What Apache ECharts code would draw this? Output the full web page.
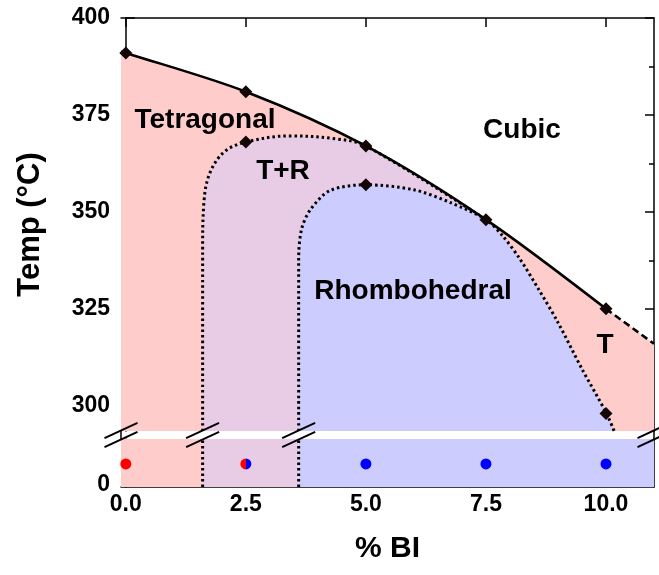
<!DOCTYPE html>
<html>
<head>
<meta charset="utf-8">
<script src="https://cdn.jsdelivr.net/npm/echarts@6/dist/echarts.min.js"></script>
<style>
html,body{margin:0;padding:0;background:#fff;}
#c{width:659px;height:575px;}
</style>
</head>
<body>
<div id="c"></div>
<script>
// ---- data ----
var xTicks = [0, 2.5, 5, 7.5, 10];
var yTicks = [300, 325, 350, 375, 400];
var yMinorTicks = [312.5, 337.5, 362.5, 387.5];
var lowerTicks = [0];

// cubic / tetragonal boundary (solid), with dashed extrapolation
var cubicX = [-0.1, 0, 2.5, 5, 7.5, 10];
var cubicY = [391.3, 391, 381, 367, 348, 325];
var cubicExtX = [10, 11];
var cubicExtY = [325, 316];

// T+R outer boundary (dotted), continuing along cubic line to 7.5
var trX = [1.6, 1.6, 1.63, 1.75, 2.05, 2.5, 3.4, 4.4, 5, 7.5];
var trY = [293.5, 340, 353, 360, 365.5, 368, 369.6, 368.8, 367, 348];

// Rhombohedral boundary (dotted)
var rhX = [3.6, 3.6, 3.66, 3.84, 4.25, 5, 6, 6.76, 7.5, 7.85, 8.2, 8.6, 9.0, 9.5, 10, 10.17];
var rhY = [293.5, 338, 345.5, 350.5, 355.5, 357, 355.7, 352.4, 348, 343.8, 338, 330, 321.5, 309.5, 298.3, 293.5];

// measured transition points (diamonds)
var diamondX = [0, 2.5, 2.5, 5, 5, 7.5, 10, 10];
var diamondY = [391, 381, 368, 367, 357, 348, 325, 298];

// room-temperature phase points (lower panel)
var rtX = [0, 2.5, 5, 7.5, 10];
var rtY = [6, 6, 6, 6, 6];
var rtPhase = ['T', 'TR', 'R', 'R', 'R'];

// lower panel phase bands
var bandEdges = [-0.1, 1.6, 3.6, 11];

var RED = '#ffcccc', PURPLE = '#e8cce6', BLUE = '#ccccff';
var FONT = '"Liberation Sans", Arial, sans-serif';

function zip(a, b) { return a.map(function (v, i) { return [v, b[i]]; }); }

var chart = echarts.init(document.getElementById('c'), null, {renderer: 'canvas'});

var xCommon = {
  type: 'value', min: -0.1, max: 11,
  splitLine: {show: false},
  axisLine: {show: true, onZero: false, lineStyle: {color: '#000', width: 1.5}},
  axisTick: {show: true, inside: true, length: 9, customValues: xTicks, lineStyle: {color: '#000', width: 1.5}},
  axisLabel: {show: false}
};

var ptColor = function (ph) {
  if (ph === 'T') return '#ff0000';
  if (ph === 'R') return '#0000ff';
  return {type: 'linear', x: 0, y: 0, x2: 1, y2: 0,
    colorStops: [{offset: 0, color: '#ff0000'}, {offset: 0.5, color: '#ff0000'},
                 {offset: 0.5, color: '#0000ff'}, {offset: 1, color: '#0000ff'}]};
};

var dotted = {color: '#000', width: 3, type: [2.5, 3], cap: 'butt'};

var option = {
  animation: false,
  backgroundColor: '#fff',
  grid: [
    {left: 121, right: 5, top: 18, height: 413},
    {left: 121, right: 5, top: 439, height: 48}
  ],
  xAxis: [
    Object.assign({}, xCommon, {gridIndex: 0, position: 'top'}),
    Object.assign({}, xCommon, {
      gridIndex: 1, position: 'bottom',
      axisLabel: {show: true, customValues: xTicks, margin: 6,
        formatter: function (v) { return v.toFixed(1); },
        fontFamily: FONT, fontWeight: 'bold', fontSize: 23, color: '#000'},
      name: '% BI', nameLocation: 'middle', nameGap: 47,
      nameTextStyle: {fontFamily: FONT, fontWeight: 'bold', fontSize: 30, color: '#000'}
    })
  ],
  yAxis: [
    {type: 'value', gridIndex: 0, position: 'left', min: 293.5, max: 400,
      splitLine: {show: false},
      axisLine: {show: true, lineStyle: {color: '#000', width: 1.5}},
      axisTick: {inside: true, length: 9, customValues: yTicks, lineStyle: {color: '#000', width: 1.5}},
      axisLabel: {customValues: yTicks, margin: 11, fontFamily: FONT, fontWeight: 'bold', fontSize: 23, color: '#000'},
      name: 'Temp (°C)', nameLocation: 'middle', nameGap: 75,
      nameTextStyle: {fontFamily: FONT, fontWeight: 'bold', fontSize: 31, color: '#000'}
    },
    {type: 'value', gridIndex: 0, position: 'left', min: 293.5, max: 400,
      splitLine: {show: false}, axisLine: {show: false},
      axisTick: {inside: true, length: 5, customValues: yMinorTicks, lineStyle: {color: '#000', width: 1.5}},
      axisLabel: {show: false}},
    {type: 'value', gridIndex: 0, position: 'right', min: 293.5, max: 400,
      splitLine: {show: false},
      axisLine: {show: true, lineStyle: {color: '#000', width: 1.5}},
      axisTick: {inside: true, length: 9, customValues: yTicks, lineStyle: {color: '#000', width: 1.5}},
      axisLabel: {show: false}},
    {type: 'value', gridIndex: 0, position: 'right', min: 293.5, max: 400,
      splitLine: {show: false}, axisLine: {show: false},
      axisTick: {inside: true, length: 5, customValues: yMinorTicks, lineStyle: {color: '#000', width: 1.5}},
      axisLabel: {show: false}},
    {type: 'value', gridIndex: 1, position: 'left', min: 0, max: 12.5,
      splitLine: {show: false},
      axisLine: {show: true, lineStyle: {color: '#000', width: 1.5}},
      axisTick: {show: false},
      axisLabel: {customValues: lowerTicks, margin: 11, fontFamily: FONT, fontWeight: 'bold', fontSize: 23, color: '#000',
        formatter: function (v) { return '{a|' + v + '}'; },
        rich: {a: {fontFamily: FONT, fontWeight: 'bold', fontSize: 23, color: '#000', padding: [0, 0, 4, 0]}}}},
    {type: 'value', gridIndex: 1, position: 'right', min: 0, max: 12.5,
      splitLine: {show: false},
      axisLine: {show: true, lineStyle: {color: '#000', width: 1.5}},
      axisTick: {show: false}, axisLabel: {show: false}}
  ],
  series: [
    // Tetragonal fill
    {type: 'line', xAxisIndex: 0, yAxisIndex: 0, data: zip(cubicX, cubicY).concat([[cubicExtX[1], cubicExtY[1]]]),
      smooth: 0.3, symbol: 'none', lineStyle: {width: 0},
      areaStyle: {color: RED, opacity: 1, origin: 'start'}, z: 1, silent: true},
    // T+R fill + dotted boundary
    {type: 'line', xAxisIndex: 0, yAxisIndex: 0, data: zip(trX, trY),
      smooth: 0.35, symbol: 'none', lineStyle: dotted,
      areaStyle: {color: PURPLE, opacity: 1, origin: 'start'}, z: 2, silent: true},
    // Rhombohedral fill + dotted boundary
    {type: 'line', xAxisIndex: 0, yAxisIndex: 0, data: zip(rhX, rhY),
      smooth: 0.3, symbol: 'none', lineStyle: dotted,
      areaStyle: {color: BLUE, opacity: 1, origin: 'start'}, z: 3, silent: true},
    // cubic boundary (solid)
    {type: 'line', xAxisIndex: 0, yAxisIndex: 0, data: zip(cubicX, cubicY),
      smooth: 0.3, symbol: 'none', lineStyle: {color: '#000', width: 2.6}, z: 4, silent: true},
    // extrapolated (dashed)
    {type: 'line', xAxisIndex: 0, yAxisIndex: 0, data: zip(cubicExtX, cubicExtY),
      symbol: 'none', lineStyle: {color: '#000', width: 2.6, type: [7, 4]}, z: 4, silent: true},
    // diamonds
    {type: 'scatter', xAxisIndex: 0, yAxisIndex: 0, data: zip(diamondX, diamondY),
      symbol: 'diamond', symbolSize: 13, itemStyle: {color: '#120606', opacity: 1}, z: 5, silent: true},

    // lower panel bands
    {type: 'line', xAxisIndex: 1, yAxisIndex: 4, data: [], silent: true,
      markArea: {silent: true, data: [
        [{xAxis: bandEdges[0], itemStyle: {color: RED, opacity: 1}}, {xAxis: bandEdges[1]}],
        [{xAxis: bandEdges[1], itemStyle: {color: PURPLE, opacity: 1}}, {xAxis: bandEdges[2]}],
        [{xAxis: bandEdges[2], itemStyle: {color: BLUE, opacity: 1}}, {xAxis: bandEdges[3]}]
      ]}, z: 1},
    // dotted phase edges in lower panel
    {type: 'line', xAxisIndex: 1, yAxisIndex: 4, data: [[bandEdges[1], 0], [bandEdges[1], 12.5]],
      symbol: 'none', lineStyle: dotted, z: 3, silent: true},
    {type: 'line', xAxisIndex: 1, yAxisIndex: 4, data: [[bandEdges[2], 0], [bandEdges[2], 12.5]],
      symbol: 'none', lineStyle: dotted, z: 3, silent: true},
    // room temperature points
    {type: 'scatter', xAxisIndex: 1, yAxisIndex: 4, symbolSize: 11, z: 5, silent: true,
      data: rtX.map(function (x, i) { return {value: [x, rtY[i]], itemStyle: {color: ptColor(rtPhase[i]), opacity: 1}}; })}
  ]
};
chart.setOption(option);

// decorations: axis-break marks, spine through the gap, region labels
var yGapTop = chart.convertToPixel({gridIndex: 0}, [0, 293.5])[1];
var yGapBot = chart.convertToPixel({gridIndex: 1}, [0, 12.5])[1];
var yMid = (yGapTop + yGapBot) / 2;
var xLeft = chart.convertToPixel({gridIndex: 1}, [-0.1, 0])[0];
var xRight = chart.convertToPixel({gridIndex: 1}, [11, 0])[0];
var breakXs = [xLeft, chart.convertToPixel({gridIndex: 1}, [bandEdges[1], 0])[0],
               chart.convertToPixel({gridIndex: 1}, [bandEdges[2], 0])[0], xRight];

var graphics = [];
[xLeft, xRight].forEach(function (x) {
  graphics.push({type: 'line', shape: {x1: x, y1: yGapTop, x2: x, y2: yGapBot},
    style: {stroke: '#000', lineWidth: 1.5}, z: 10});
});
breakXs.forEach(function (x) {
  [-4.5, 4.5].forEach(function (d) {
    graphics.push({type: 'line', shape: {x1: x - 16.5, y1: yMid + d + 7.6, x2: x + 16.5, y2: yMid + d - 7.6},
      style: {stroke: '#000', lineWidth: 2}, z: 11});
  });
});

var labels = [
  {t: 'Tetragonal', x: 205, y: 120},
  {t: 'Cubic', x: 522, y: 130},
  {t: 'T+R', x: 283, y: 171},
  {t: 'Rhombohedral', x: 413, y: 291},
  {t: 'T', x: 605, y: 345}
];
labels.forEach(function (l) {
  graphics.push({type: 'text', x: l.x, y: l.y, z: 12,
    style: {text: l.t, textAlign: 'center', textVerticalAlign: 'middle',
      font: 'bold 28px ' + FONT, fill: '#000'}});
});
chart.setOption({graphic: graphics});
</script>
</body>
</html>
